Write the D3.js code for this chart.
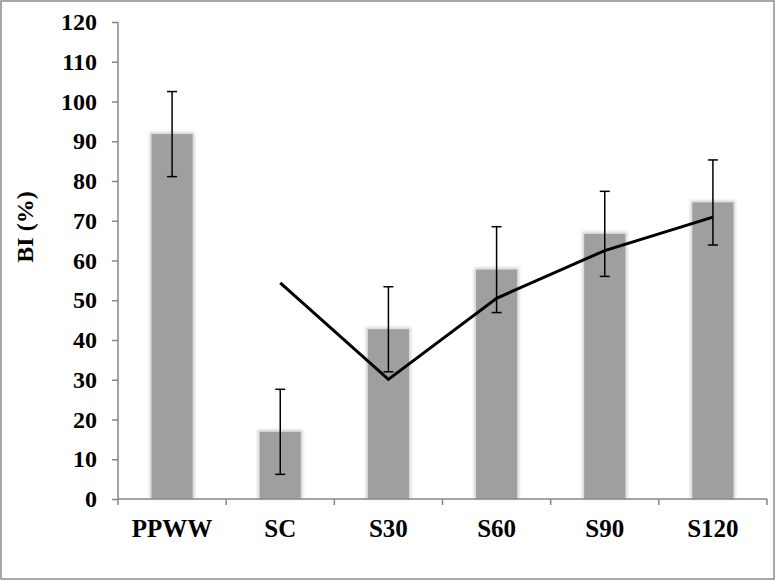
<!DOCTYPE html>
<html>
<head>
<meta charset="utf-8">
<script src="https://cdn.jsdelivr.net/npm/d3@7"></script>
<style>
  body { margin: 0; background: #fff; }
  svg { display: block; }
</style>
</head>
<body>
<svg id="chart" width="775" height="580"></svg>
<script>
// data
var categories = ["PPWW", "SC", "S30", "S60", "S90", "S120"];
var barValues  = [91.8, 16.9, 42.7, 57.7, 66.7, 74.6];
var errValues  = [10.7, 10.7, 10.7, 10.8, 10.7, 10.7];
var lineCats   = ["SC", "S30", "S60", "S90", "S120"];
var lineValues = [54.4, 30.1, 50.5, 62.5, 70.9];
var yTicks     = [0, 10, 20, 30, 40, 50, 60, 70, 80, 90, 100, 110, 120];

var svg = d3.select("#chart"),
    width = +svg.attr("width"),
    height = +svg.attr("height");

var margin = {left: 118, right: 8, top: 22, bottom: 81};
var fontFam = "'Liberation Serif', 'Times New Roman', serif";

// outer frame
svg.append("rect")
    .attr("x", 1).attr("y", 1)
    .attr("width", width - 2).attr("height", height - 2)
    .attr("fill", "#fff")
    .attr("stroke", "#8c8c8c")
    .attr("stroke-width", 1.5);

var x = d3.scaleBand()
    .domain(categories)
    .range([margin.left, width - margin.right])
    .paddingInner(0).paddingOuter(0);

var y = d3.scaleLinear()
    .domain([0, 120])
    .range([height - margin.bottom, margin.top]);

var defs = svg.append("defs");
defs.append("filter").attr("id", "glow")
    .attr("x", "-30%").attr("y", "-10%").attr("width", "160%").attr("height", "120%")
  .append("feGaussianBlur").attr("stdDeviation", 1.6);

var barW = x.bandwidth() * 0.38;

// soft halo behind bars
svg.append("g").selectAll("rect")
    .data(barValues)
    .enter().append("rect")
    .attr("x", function(d, i) { return x(categories[i]) + x.bandwidth() / 2 - barW / 2 - 2; })
    .attr("y", function(d) { return y(d) - 2; })
    .attr("width", barW + 4)
    .attr("height", function(d) { return y(0) - y(d) + 2; })
    .attr("fill", "#d4d4d4")
    .attr("filter", "url(#glow)");

svg.append("g").selectAll("rect")
    .data(barValues)
    .enter().append("rect")
    .attr("x", function(d, i) { return x(categories[i]) + x.bandwidth() / 2 - barW / 2; })
    .attr("y", function(d) { return y(d); })
    .attr("width", barW)
    .attr("height", function(d) { return y(0) - y(d); })
    .attr("fill", "#9f9f9f");

// axes
var yAxis = d3.axisLeft(y).tickValues(yTicks).tickSize(6).tickPadding(15);
var gy = svg.append("g")
    .attr("transform", "translate(" + margin.left + ",0)")
    .call(yAxis);

var xAxis = d3.axisBottom(x).tickSize(0);
var gx = svg.append("g")
    .attr("transform", "translate(0," + y(0) + ")")
    .call(xAxis);

// x ticks at band edges
var edges = categories.map(function(c) { return x(c); }).concat([x.range()[1]]);
gx.selectAll(".edge")
    .data(edges)
    .enter().append("line")
    .attr("class", "edge")
    .attr("x1", function(d) { return d; })
    .attr("x2", function(d) { return d; })
    .attr("y1", 0).attr("y2", 6)
    .attr("stroke", "#868686")
    .attr("stroke-width", 1.5);

[gx, gy].forEach(function(g) {
    g.select(".domain").attr("stroke", "#868686").attr("stroke-width", 1.5);
    g.selectAll(".tick line").attr("stroke", "#868686").attr("stroke-width", 1.5);
    g.selectAll("text")
        .attr("fill", "#000")
        .style("font-family", fontFam)
        .style("font-weight", "bold");
});
gy.selectAll("text").style("font-size", "24px");
gx.selectAll("text").style("font-size", "25px").attr("y", 38).attr("dy", 0);
gy.select(".domain").attr("d", "M0," + y(120) + "V" + y(0));
gx.select(".domain").attr("d", "M" + x.range()[0] + ",0H" + x.range()[1]);

// trend line
var line = d3.line()
    .x(function(d, i) { return x(lineCats[i]) + x.bandwidth() / 2; })
    .y(function(d) { return y(d); });

svg.append("path")
    .datum(lineValues)
    .attr("d", line)
    .attr("fill", "none")
    .attr("stroke", "#000")
    .attr("stroke-width", 3)
    .attr("stroke-linejoin", "miter");

// error bars
var eb = svg.append("g").selectAll("g")
    .data(barValues)
    .enter().append("g")
    .attr("transform", function(d, i) { return "translate(" + (x(categories[i]) + x.bandwidth() / 2) + ",0)"; });

eb.append("line")
    .attr("y1", function(d, i) { return y(d + errValues[i]); })
    .attr("y2", function(d, i) { return y(d - errValues[i]); })
    .attr("stroke", "#000").attr("stroke-width", 1.5);
eb.append("line")
    .attr("x1", -5).attr("x2", 5)
    .attr("y1", function(d, i) { return y(d + errValues[i]); })
    .attr("y2", function(d, i) { return y(d + errValues[i]); })
    .attr("stroke", "#000").attr("stroke-width", 1.5);
eb.append("line")
    .attr("x1", -5).attr("x2", 5)
    .attr("y1", function(d, i) { return y(d - errValues[i]); })
    .attr("y2", function(d, i) { return y(d - errValues[i]); })
    .attr("stroke", "#000").attr("stroke-width", 1.5);

// y title
svg.append("text")
    .attr("transform", "translate(33,227) rotate(-90)")
    .attr("text-anchor", "middle")
    .style("font-family", fontFam)
    .style("font-weight", "bold")
    .style("font-size", "24px")
    .text("BI (%)");
</script>
</body>
</html>
